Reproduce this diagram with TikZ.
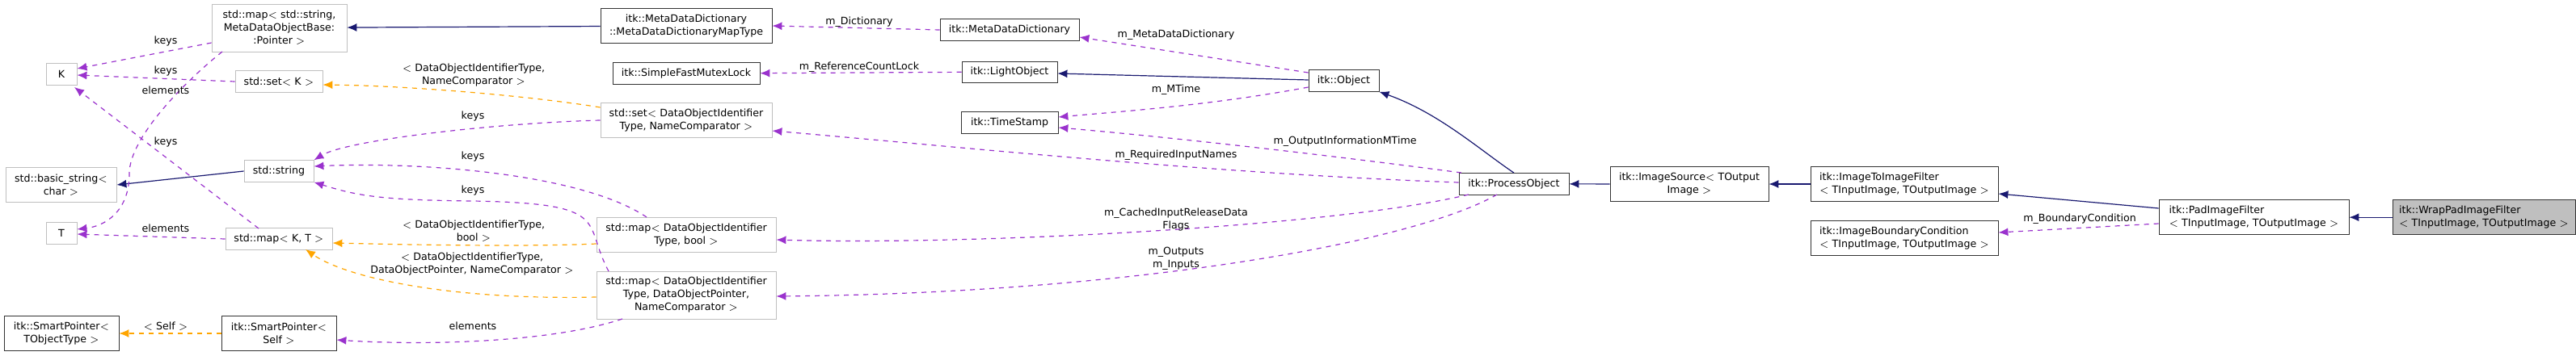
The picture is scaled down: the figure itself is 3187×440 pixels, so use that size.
\documentclass[tikz,border=0pt]{standalone}
\usepackage{fontspec}
\setmainfont{DejaVu Sans}
\usetikzlibrary{arrows.meta}

\definecolor{edgepurple}{HTML}{9A32CD}
\definecolor{edgeorange}{HTML}{FFA500}
\definecolor{edgenavy}{HTML}{191970}

\tikzset{
  cls/.style={draw=black!80, fill=white, inner sep=1.5pt, align=center, font=\fontsize{6.3}{8}\selectfont},
  ext/.style={cls, draw=black!25},
  lbl/.style={align=center, inner sep=0pt, font=\fontsize{6.3}{8}\selectfont},
  dep/.style={draw=edgepurple, dashed, semithick, -{Latex[length=6pt,width=5pt]}},
  tpl/.style={draw=edgeorange, dashed, semithick, -{Latex[length=6pt,width=5pt]}},
  inh/.style={draw=edgenavy, semithick, -{Latex[length=6pt,width=5pt]}}
}

\begin{document}
\begin{tikzpicture}[x=0.5pt, y=-0.5pt]
  \useasboundingbox (0,0) rectangle (3187,440);

  % Classes, left column
  \node[ext, minimum width=83.5pt, minimum height=29.5pt] (mapSP) at (345.5,34.5) {std::map$<$ std::string,\\MetaDataObjectBase:\\:Pointer $>$};
  \node[ext, minimum width=19pt, minimum height=13.3pt] (K) at (76,92) {K};
  \node[ext, minimum width=54pt, minimum height=13.5pt] (setK) at (345,101) {std::set$<$ K $>$};
  \node[ext, minimum width=68.5pt, minimum height=21.3pt] (bstr) at (75.5,229) {std::basic\_string$<$\\char $>$};
  \node[ext, minimum width=43pt, minimum height=13.3pt] (str) at (345,212) {std::string};
  \node[ext, minimum width=19pt, minimum height=13.3pt] (T) at (76,289) {T};
  \node[ext, minimum width=66pt, minimum height=13.3pt] (mapKT) at (345,296) {std::map$<$ K, T $>$};
  \node[cls, minimum width=71pt, minimum height=21.5pt] (spT) at (76,413) {itk::SmartPointer$<$\\TObjectType $>$};
  \node[cls, minimum width=71pt, minimum height=21.5pt] (spSelf) at (345,413) {itk::SmartPointer$<$\\Self $>$};

  % Classes, middle column
  \node[cls, minimum width=106pt, minimum height=21.5pt] (mddMap) at (849,32) {itk::MetaDataDictionary\\::MetaDataDictionaryMapType};
  \node[cls, minimum width=91pt, minimum height=13.3pt] (mutex) at (849,90.7) {itk::SimpleFastMutexLock};
  \node[ext, minimum width=106pt, minimum height=21.5pt] (setDO) at (849,149) {std::set$<$ DataObjectIdentifier\\Type, NameComparator $>$};
  \node[ext, minimum width=111pt, minimum height=21.5pt] (mapBool) at (849,290.7) {std::map$<$ DataObjectIdentifier\\Type, bool $>$};
  \node[ext, minimum width=111pt, minimum height=29.5pt] (mapDO) at (849,365.5) {std::map$<$ DataObjectIdentifier\\Type, DataObjectPointer,\\NameComparator $>$};
  \node[cls, minimum width=86pt, minimum height=13.5pt] (mdd) at (1249,37) {itk::MetaDataDictionary};
  \node[cls, minimum width=59pt, minimum height=13.3pt] (light) at (1249,89.3) {itk::LightObject};
  \node[cls, minimum width=60pt, minimum height=13.3pt] (tstamp) at (1249,151.8) {itk::TimeStamp};

  % Classes, right part
  \node[cls, minimum width=43.5pt, minimum height=13.3pt] (obj) at (1662.5,100) {itk::Object};
  \node[cls, minimum width=68pt, minimum height=13.3pt] (proc) at (1873,227.8) {itk::ProcessObject};
  \node[cls, minimum width=98pt, minimum height=21.5pt] (isrc) at (2090,228) {itk::ImageSource$<$ TOutput\\Image $>$};
  \node[cls, align=left, minimum width=116pt, minimum height=21.5pt] (i2i) at (2356,228) {itk::ImageToImageFilter\\$<$ TInputImage, TOutputImage $>$};
  \node[cls, align=left, minimum width=116pt, minimum height=21.5pt] (ibc) at (2356,294.7) {itk::ImageBoundaryCondition\\$<$ TInputImage, TOutputImage $>$};
  \node[cls, align=left, minimum width=117.5pt, minimum height=21.5pt] (pad) at (2788.5,269.2) {itk::PadImageFilter\\$<$ TInputImage, TOutputImage $>$};
  \node[cls, align=left, fill=black!25, minimum width=113pt, minimum height=21.5pt] (wrap) at (3073,269.2) {itk::WrapPadImageFilter\\$<$ TInputImage, TOutputImage $>$};

  % Inheritance
  \draw[inh] (mddMap) -- (mapSP);
  \draw[inh] (str.west) -- (bstr.east);
  \draw[inh] (obj.west |- 0,99) -- (light.east |- 0,91);
  \draw[inh] (proc.north) .. controls (1830,185) and (1780,140) .. (obj.south east);
  \draw[inh] (isrc) -- (proc);
  \draw[inh] (i2i) -- (isrc);
  \draw[inh] (pad.west |- 0,258) -- (i2i.east |- 0,240);
  \draw[inh] (wrap) -- (pad);

  % Template instances
  \draw[tpl] (setDO.west |- 0,133) .. controls (650,118) and (500,106) .. (setK.east |- 0,105);
  \draw[tpl] (mapBool.west |- 0,302) .. controls (650,306) and (500,303) .. (mapKT.east |- 0,301);
  \draw[tpl] (mapDO.west |- 0,368) .. controls (560,372) and (430,345) .. (378,309);
  \draw[tpl] (spSelf.west) -- (spT.east);

  % Usage, left
  \draw[dep] (mapSP.west |- 0,53) -- (K.east |- 0,85);
  \draw[dep] (setK.west) -- (K.east |- 0,93);
  \draw[dep] (275,64) .. controls (230,100) and (160,170) .. (160,215) .. controls (160,262) and (130,280) .. (T.east |- 0,284);
  \draw[dep] (320,283) -- (92,108);
  \draw[dep] (mapKT.west) -- (T.east |- 0,290);
  \draw[dep] (setDO.west) .. controls (620,152) and (430,173) .. (str.north east);
  \draw[dep] (800,269) .. controls (720,215) and (520,200) .. (str.east |- 0,206);
  \draw[dep] (753,336) .. controls (720,275) and (760,252) .. (585,249) .. controls (470,248) and (440,242) .. (str.south east);
  \draw[dep] (770,395) .. controls (680,425) and (520,428) .. (spSelf.east |- 0,421);
  \draw[dep] (mdd.west) -- (mddMap.east);
  \draw[dep] (light.west) -- (mutex.east);

  % Usage, right
  \draw[dep] (obj.west |- 0,90) -- (mdd.east |- 0,46);
  \draw[dep] (obj.west |- 0,108) .. controls (1500,130) and (1400,137) .. (tstamp.east |- 0,145);
  \draw[dep] (1808,214) .. controls (1650,193) and (1450,170) .. (tstamp.east |- 0,158);
  \draw[dep] (proc.west |- 0,226) .. controls (1500,215) and (1200,183) .. (setDO.east |- 0,162);
  \draw[dep] (1817,241) .. controls (1650,281) and (1200,304) .. (mapBool.east |- 0,297);
  \draw[dep] (1852,241) .. controls (1750,300) and (1400,363) .. (mapDO.east |- 0,367);
  \draw[dep] (pad.west |- 0,277) -- (ibc.east |- 0,288);

  % Edge labels
  \node[lbl] (lk1) at (205,50.7) {keys};
  \node[lbl] (lk2) at (205,87.7) {keys};
  \node[lbl] (le1) at (205,111.7) {elements};
  \node[lbl] (lk3) at (205,175.7) {keys};
  \node[lbl] (le2) at (205,282.7) {elements};
  \node[lbl] (ls) at (205,404.3) {$<$ Self $>$};
  \node[lbl] (lt1) at (586,92.7) {$<$ DataObjectIdentifierType,\\NameComparator $>$};
  \node[lbl] (lk4) at (585,144) {keys};
  \node[lbl] (lk5) at (585,194.3) {keys};
  \node[lbl] (lk6) at (585,235.7) {keys};
  \node[lbl] (lt2) at (586,286) {$<$ DataObjectIdentifierType,\\bool $>$};
  \node[lbl] (lt3) at (584,326.7) {$<$ DataObjectIdentifierType,\\DataObjectPointer, NameComparator $>$};
  \node[lbl] (le3) at (585,403.7) {elements};
  \node[lbl] (ldict) at (1063,26.7) {m\_Dictionary};
  \node[lbl] (llock) at (1063,82.7) {m\_ReferenceCountLock};
  \node[lbl] (lmdd) at (1455,42.7) {m\_MetaDataDictionary};
  \node[lbl] (lmt) at (1455,110.7) {m\_MTime};
  \node[lbl] (loim) at (1664,174.7) {m\_OutputInformationMTime};
  \node[lbl] (lreq) at (1455,191.7) {m\_RequiredInputNames};
  \node[lbl] (lcache) at (1455,272.3) {m\_CachedInputReleaseData\\Flags};
  \node[lbl] (lio) at (1455,320.7) {m\_Outputs\\m\_Inputs};
  \node[lbl] (lbc) at (2573,270.7) {m\_BoundaryCondition};
\end{tikzpicture}
\end{document}
